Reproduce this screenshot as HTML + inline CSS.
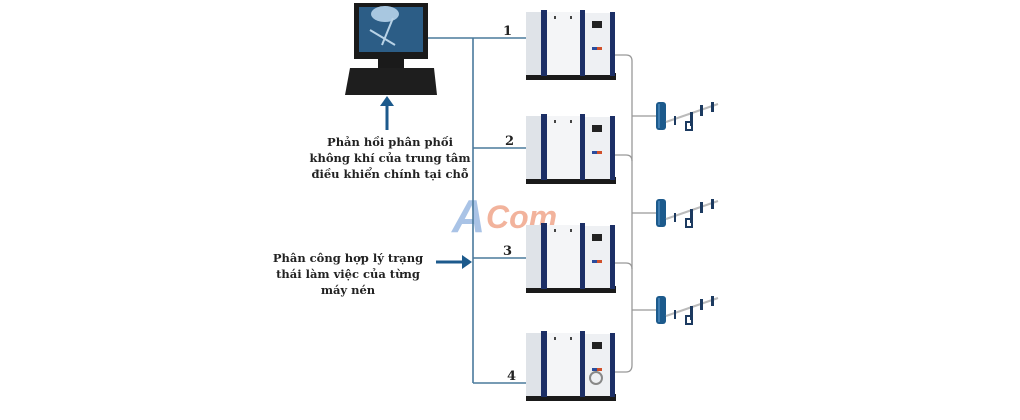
<!DOCTYPE html>
<html><head><meta charset="utf-8"><style>
html,body{margin:0;padding:0;background:#fff;width:1020px;height:420px;overflow:hidden}
svg{display:block}
text{font-family:"DejaVu Serif","Liberation Serif",serif;font-weight:bold;fill:#222}
</style></head><body>
<svg width="1020" height="420" viewBox="0 0 1020 420" xmlns="http://www.w3.org/2000/svg">
<defs>
<g id="comp">
  <rect x="0" y="63" width="90" height="7" fill="#1a1a1a"/>
  <rect x="0" y="2" width="15" height="63" fill="#dfe3e8"/>
  <rect x="15" y="0" width="6" height="66" fill="#1c2f66"/>
  <rect x="21" y="2" width="33" height="63" fill="#f4f5f7"/>
  <rect x="54" y="0" width="5" height="66" fill="#1c2f66"/>
  <rect x="59" y="3" width="25" height="62" fill="#eef0f3"/>
  <rect x="84" y="2" width="5" height="64" fill="#1c2f66"/>
  <rect x="66" y="11" width="10" height="7" fill="#222"/>
  <rect x="66" y="37" width="5" height="3" fill="#2a4c9c"/>
  <rect x="71" y="37" width="5" height="3" fill="#d0502a"/>
  <rect x="28" y="6" width="2" height="3" fill="#444"/>
  <rect x="44" y="6" width="2" height="3" fill="#444"/>
</g>
<g id="tank">
  <rect x="0" y="0" width="10" height="28" rx="3" fill="#1c5a8c"/>
  <rect x="2" y="2" width="2" height="24" fill="#3d7cb0"/>
  <line x1="10" y1="20" x2="62" y2="2" stroke="#bbb" stroke-width="2"/>
  <rect x="18" y="14" width="2" height="9" fill="#1c3a60"/>
  <rect x="34" y="10" width="3" height="14" fill="#1c3a60"/>
  <path d="M30 20 h6 v8 h-6 z" fill="none" stroke="#1c3a60" stroke-width="2"/>
  <rect x="44" y="3" width="3" height="11" fill="#1c3a60"/>
  <rect x="55" y="0" width="3" height="10" fill="#1c3a60"/>
</g>
</defs>

<!-- computer -->
<rect x="354" y="3" width="74" height="56" fill="#1a1a1a"/>
<rect x="359" y="7" width="64" height="45" fill="#2c5d86"/>
<ellipse cx="385" cy="14" rx="14" ry="8" fill="#a8c7e0"/>
<path d="M370 30 L395 45 M393 18 L382 45" stroke="#b8d2e6" stroke-width="2" fill="none"/>
<rect x="378" y="59" width="26" height="9" fill="#1a1a1a"/>
<path d="M350 68 L434 68 L437 95 L345 95 Z" fill="#1e1e1e"/>

<!-- watermark -->
<text x="452" y="232" style="font-family:'Liberation Sans',sans-serif;font-style:italic;font-weight:bold;font-size:46px;fill:#a9c3e6">A</text>
<text x="486" y="228" style="font-family:'Liberation Sans',sans-serif;font-style:italic;font-weight:bold;font-size:32px;fill:#f2b39c">Com</text>

<!-- control lines -->
<g stroke="#4a7a9c" stroke-width="1.6" fill="none">
  <line x1="428" y1="38" x2="530" y2="38"/>
  <line x1="473" y1="38" x2="473" y2="383"/>
  <line x1="473" y1="148" x2="530" y2="148"/>
  <line x1="473" y1="258" x2="530" y2="258"/>
  <line x1="473" y1="383" x2="530" y2="383"/>
</g>
<!-- air lines -->
<g stroke="#999" stroke-width="1.3" fill="none">
  <path d="M614 55 H626 Q632 55 632 61 V365 Q632 372 626 372 H614"/>
  <path d="M614 155 H626 Q632 155 632 161"/>
  <path d="M614 263 H626 Q632 263 632 269"/>
  <line x1="632" y1="116" x2="657" y2="116"/>
  <line x1="632" y1="213" x2="657" y2="213"/>
  <line x1="632" y1="310" x2="657" y2="310"/>
</g>

<use href="#comp" x="526" y="10"/>
<use href="#comp" x="526" y="114"/>
<use href="#comp" x="526" y="223"/>
<use href="#comp" x="526" y="331"/>
<circle cx="596" cy="378" r="6" fill="none" stroke="#888" stroke-width="2"/>

<use href="#tank" x="656" y="102"/>
<use href="#tank" x="656" y="199"/>
<use href="#tank" x="656" y="296"/>

<!-- numbers -->
<g style="font-size:13px">
<text x="503" y="35">1</text>
<text x="505" y="145">2</text>
<text x="503" y="255">3</text>
<text x="507" y="380">4</text>
</g>

<!-- arrows -->
<g stroke="#1c5a8c" stroke-width="3" fill="none">
  <line x1="387" y1="130" x2="387" y2="104"/>
  <line x1="436" y1="262" x2="464" y2="262"/>
</g>
<path d="M380 106 L387 96 L394 106 Z" fill="#1c5a8c"/>
<path d="M462 255 L472 262 L462 269 Z" fill="#1c5a8c"/>

<g style="font-size:11.5px" text-anchor="middle">
<text x="390" y="146">Phản hồi phân phối</text>
<text x="390" y="162">không khí của trung tâm</text>
<text x="390" y="178">điều khiển chính tại chỗ</text>
<text x="348" y="262">Phân công hợp lý trạng</text>
<text x="348" y="278">thái làm việc của từng</text>
<text x="348" y="294">máy nén</text>
</g>
</svg>
</body></html>
